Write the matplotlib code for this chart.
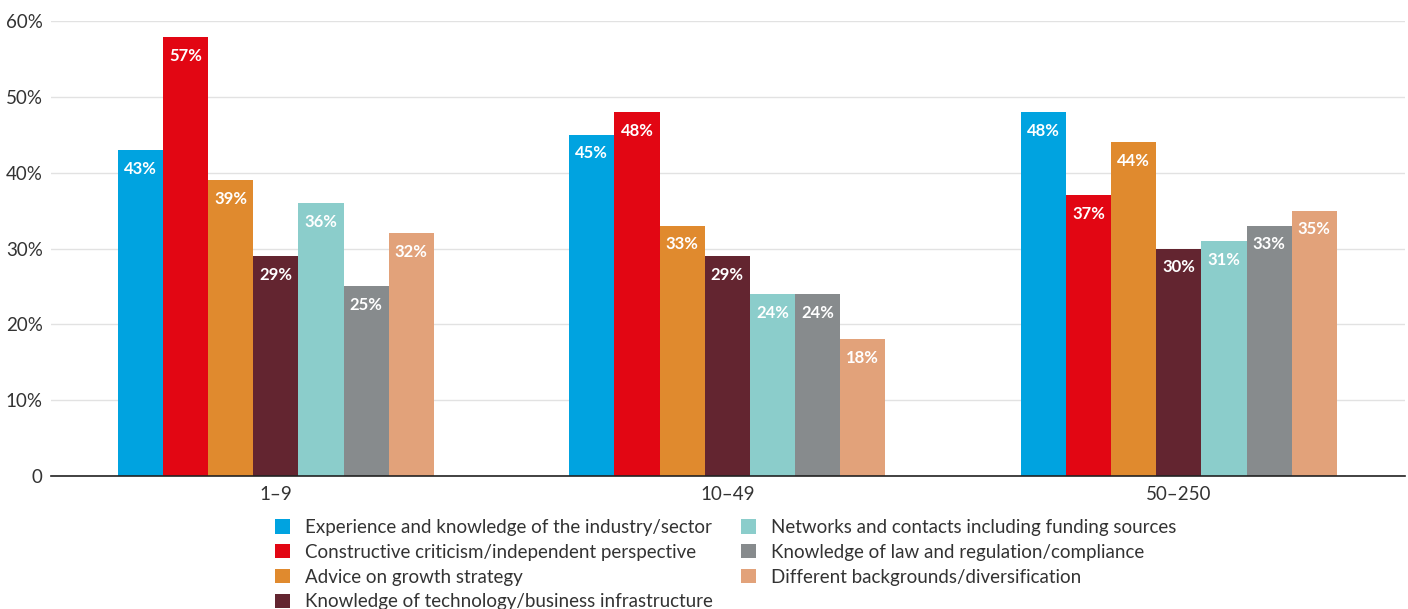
import matplotlib.pyplot as plt
import numpy as np

plt.rcParams['font.family'] = ['Lato', 'DejaVu Sans']

# --- Data ---
groups = ['1–9', '10–49', '50–250']
series = [
    'Experience and knowledge of the industry/sector',
    'Constructive criticism/independent perspective',
    'Advice on growth strategy',
    'Knowledge of technology/business infrastructure',
    'Networks and contacts including funding sources',
    'Knowledge of law and regulation/compliance',
    'Different backgrounds/diversification',
]
values = [
    [43, 45, 48],
    [57.9, 48, 37],
    [39, 33, 44],
    [29, 29, 30],
    [36, 24, 31],
    [25, 24, 33],
    [32, 18, 35],
]
labels = [
    ['43%', '45%', '48%'],
    ['57%', '48%', '37%'],
    ['39%', '33%', '44%'],
    ['29%', '29%', '30%'],
    ['36%', '24%', '31%'],
    ['25%', '24%', '33%'],
    ['32%', '18%', '35%'],
]
colors = ['#00A3E0', '#E20613', '#E08A2E', '#632530', '#8BCDCB', '#878B8D', '#E2A27A']

fig = plt.figure(figsize=(14.08, 6.09), dpi=100)
ax = fig.add_axes([0.0362, 0.2184, 0.962, 0.7471])

x = np.arange(len(groups))
width = 0.1
n = len(series)
for i, (name, vals, labs, col) in enumerate(zip(series, values, labels, colors)):
    pos = x + (i - (n - 1) / 2) * width
    ax.bar(pos, vals, width=width, color=col, label=name, zorder=3)
    for px, v, t in zip(pos, vals, labs):
        ax.text(px, v - 1.4, t, ha='center', va='top', color='white',
                fontsize=12, fontweight='bold', zorder=4)

ax.set_xlim(-0.498, 2.502)
ax.set_ylim(0, 60)
ax.set_yticks(range(0, 61, 10))
ax.set_yticklabels(['0'] + [f'{v}%' for v in range(10, 61, 10)])
ax.set_xticks(x)
ax.set_xticklabels(groups)
ax.tick_params(axis='both', length=0, labelsize=13.5, colors='#333333')
ax.tick_params(axis='x', pad=7)
ax.tick_params(axis='y', pad=6)
ax.grid(axis='y', color='#e2e2e2', linewidth=1, zorder=0)
for s in ['top', 'right', 'left']:
    ax.spines[s].set_visible(False)
ax.spines['bottom'].set_color('#222222')
ax.spines['bottom'].set_linewidth(1.2)
ax.spines['bottom'].set_zorder(5)

fig.legend(loc='upper left', bbox_to_anchor=(0.195, 0.148), ncol=2, frameon=False,
           fontsize=13.5, handlelength=0.8, handleheight=0.8, handletextpad=0.8,
           labelspacing=0.42, columnspacing=1.55, borderpad=0, borderaxespad=0,
           labelcolor='#333333')

fig.savefig('out.png', dpi=100)
